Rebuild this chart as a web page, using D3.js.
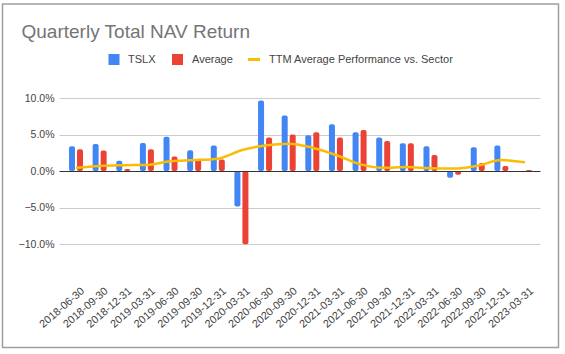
<!DOCTYPE html>
<html>
<head>
<meta charset="utf-8">
<script src="https://cdn.jsdelivr.net/npm/d3@7"></script>
<style>
  body { margin: 0; background: #fff; }
</style>
</head>
<body>
<div id="chart"></div>
<script>
// data
var quarters = ["2018-06-30", "2018-09-30", "2018-12-31", "2019-03-31", "2019-06-30",
  "2019-09-30", "2019-12-31", "2020-03-31", "2020-06-30", "2020-09-30",
  "2020-12-31", "2021-03-31", "2021-06-30", "2021-09-30", "2021-12-31",
  "2022-03-31", "2022-06-30", "2022-09-30", "2022-12-31", "2023-03-31"];
var tslx = [3.4, 3.7, 1.4, 3.85, 4.7, 2.85, 3.5, -4.85, 9.65, 7.6,
  4.9, 6.4, 5.3, 4.6, 3.8, 3.4, -0.9, 3.25, 3.5, 0];
var average = [3.0, 2.8, 0.3, 3.0, 2.0, 1.6, 1.6, -10.0, 4.6, 5.0,
  5.3, 4.6, 5.6, 4.1, 3.8, 2.2, -0.5, 1.1, 0.7, 0.15];
var ttm = [0.45, 0.7, 0.8, 0.85, 1.35, 1.5, 1.7, 2.85, 3.5, 3.75,
  3.2, 2.2, 0.95, 0.45, 0.55, 0.4, 0.35, 0.75, 1.5, 1.2];
var yTicks = [-10, -5, 0, 5, 10];
var seriesNames = ["TSLX", "Average", "TTM Average Performance vs. Sector"];

//constants
var width = 565;
var height = 354;
var color_tslx = "#4285f4";
var color_avg = "#ea4335";
var color_ttm = "#fbbc04";
var color_text = "#444444";
var font = "'Liberation Sans', Arial, sans-serif";
var barW = 6;
var gap = 2;
var left = 59.5;
var right = 540.5;

var svg = d3.select("#chart")
  .append("svg")
  .attr("width", width)
  .attr("height", height)
  .style("font-family", font);

//frame
svg.append("rect")
  .attr("x", 2.5)
  .attr("y", 4)
  .attr("width", 556)
  .attr("height", 343.5)
  .style("fill", "#fff")
  .style("stroke", "#9e9e9e")
  .style("stroke-width", 1.5);

//title
svg.append("text")
  .attr("x", 21.5)
  .attr("y", 37.5)
  .style("font-size", "19px")
  .style("fill", "#757575")
  .text("Quarterly Total NAV Return");

//scales
var x = d3.scalePoint()
  .domain(quarters)
  .range([76, 525]);

var y = d3.scaleLinear()
  .domain([-10, 10])
  .range([244.3, 97.9]);

//gridlines + y labels
var grid = svg.append("g");
grid.selectAll("line")
  .data(yTicks.filter(d => d !== 0))
  .enter()
  .append("line")
  .attr("x1", left)
  .attr("x2", right)
  .attr("y1", d => Math.round(y(d)) + 0.5)
  .attr("y2", d => Math.round(y(d)) + 0.5)
  .style("stroke", "#cccccc")
  .style("stroke-width", 1);

grid.selectAll("text")
  .data(yTicks)
  .enter()
  .append("text")
  .attr("x", 54.5)
  .attr("y", d => y(d))
  .attr("dy", "0.36em")
  .attr("text-anchor", "end")
  .style("font-size", "10.5px")
  .style("fill", color_text)
  .text(d => d3.format(".1f")(d) + "%");

//bars
var bars = svg.append("g");
bars.selectAll(".tslx")
  .data(tslx)
  .enter()
  .append("rect")
  .attr("class", "tslx")
  .attr("x", (d, i) => x(quarters[i]) - gap / 2 - barW)
  .attr("y", d => Math.min(y(0), y(d)))
  .attr("width", barW)
  .attr("height", d => Math.abs(y(d) - y(0)))
  .attr("rx", 2)
  .style("fill", color_tslx);

bars.selectAll(".avg")
  .data(average)
  .enter()
  .append("rect")
  .attr("class", "avg")
  .attr("x", (d, i) => x(quarters[i]) + gap / 2)
  .attr("y", d => Math.min(y(0), y(d)))
  .attr("width", barW)
  .attr("height", d => Math.abs(y(d) - y(0)))
  .attr("rx", 2)
  .style("fill", color_avg);

//zero line
svg.append("line")
  .attr("x1", left)
  .attr("x2", right)
  .attr("y1", Math.round(y(0)) + 0.5)
  .attr("y2", Math.round(y(0)) + 0.5)
  .style("stroke", "#333333")
  .style("stroke-width", 1.2);

//ttm line
var line = d3.line()
  .x((d, i) => x(quarters[i]))
  .y(d => y(d))
  .curve(d3.curveMonotoneX);

svg.append("path")
  .datum(ttm)
  .attr("d", line)
  .style("fill", "none")
  .style("stroke", color_ttm)
  .style("stroke-width", 2.5)
  .style("stroke-linejoin", "round");

//x labels
svg.append("g")
  .selectAll("text")
  .data(quarters)
  .enter()
  .append("text")
  .attr("transform", d => "translate(" + (x(d) + 9) + ",292) rotate(-41)")
  .attr("text-anchor", "end")
  .style("font-size", "10.8px")
  .style("fill", color_text)
  .text(d => d);

//legend
var key = svg.append("g");
var keyY = 59.5;

key.append("rect")
  .attr("x", 108.5).attr("y", keyY - 5.5)
  .attr("width", 11).attr("height", 11)
  .style("fill", color_tslx);
key.append("text")
  .attr("x", 128).attr("y", keyY).attr("dy", "0.36em")
  .style("font-size", "11px").style("fill", color_text)
  .text(seriesNames[0]);

key.append("rect")
  .attr("x", 172).attr("y", keyY - 5.5)
  .attr("width", 11).attr("height", 11)
  .style("fill", color_avg);
key.append("text")
  .attr("x", 192).attr("y", keyY).attr("dy", "0.36em")
  .style("font-size", "11px").style("fill", color_text)
  .text(seriesNames[1]);

key.append("line")
  .attr("x1", 248).attr("x2", 260)
  .attr("y1", keyY).attr("y2", keyY)
  .style("stroke", color_ttm)
  .style("stroke-width", 3);
key.append("text")
  .attr("x", 269).attr("y", keyY).attr("dy", "0.36em")
  .style("font-size", "11px").style("fill", color_text)
  .text(seriesNames[2]);
</script>
</body>
</html>
